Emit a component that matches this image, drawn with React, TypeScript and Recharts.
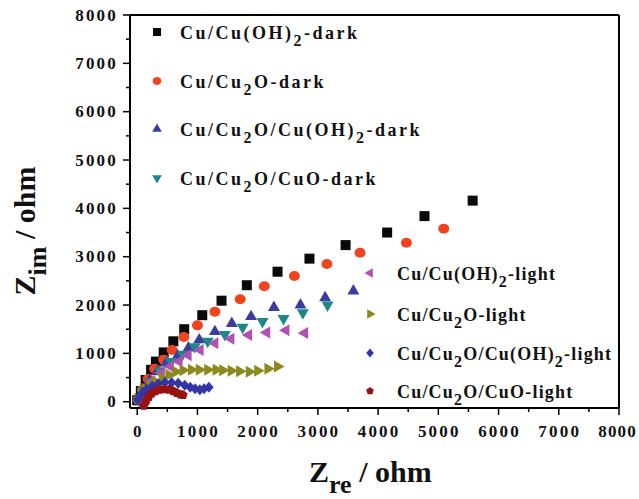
import React from "react";
import { ScatterChart, Scatter, XAxis, YAxis, ReferenceLine } from "recharts";

// axis ticks (ohm)
const majorTicks = [0, 1000, 2000, 3000, 4000, 5000, 6000, 7000, 8000];
const minorTicks = [500, 1500, 2500, 3500, 4500, 5500, 6500, 7500];

// Nyquist points, [Zre, Zim] in ohm
const darkCuOH2 = [
  [0, 30], [60, 220], [140, 450], [230, 660], [310, 830], [440, 1020], [600, 1250],
  [780, 1500], [1080, 1790], [1400, 2090], [1820, 2410], [2330, 2690], [2860, 2960],
  [3460, 3240], [4150, 3500], [4770, 3840], [5570, 4160],
];
const darkCu2O = [
  [20, 40], [90, 250], [180, 470], [290, 680], [440, 870], [580, 1070], [775, 1340],
  [1000, 1580], [1290, 1860], [1710, 2120], [2110, 2390], [2610, 2600], [3150, 2850],
  [3700, 3080], [4470, 3290], [5090, 3580],
];
const darkCu2OCuOH2 = [
  [30, 40], [100, 230], [200, 430], [330, 620], [480, 800], [670, 950], [850, 1110],
  [1030, 1280], [1290, 1450], [1570, 1620], [1890, 1760], [2270, 1950], [2710, 2000],
  [3120, 2150], [3590, 2290],
];
const darkCu2OCuO = [
  [30, 30], [110, 220], [220, 420], [380, 640], [560, 830], [750, 980], [955, 1140],
  [1170, 1250], [1455, 1390], [1750, 1540], [2080, 1660], [2430, 1720], [2750, 1840],
  [3160, 2000],
];
const lightCuOH2 = [
  [30, 30], [120, 220], [240, 420], [400, 600], [550, 730], [695, 830], [845, 960],
  [1045, 1070], [1290, 1210], [1555, 1300], [1850, 1380], [2150, 1430], [2470, 1480],
  [2780, 1420],
];
const lightCu2O = [
  [10, 60], [60, 170], [135, 270], [205, 340], [300, 420], [415, 490], [525, 560],
  [640, 620], [760, 650], [900, 660], [1030, 660], [1170, 660], [1310, 660], [1420, 650],
  [1560, 640], [1700, 630], [1860, 620], [2000, 640], [2170, 680], [2330, 730],
];
const lightCu2OCuOH2 = [
  [10, 40], [40, 120], [90, 190], [160, 260], [250, 320], [350, 370], [460, 400],
  [570, 400], [680, 380], [790, 340], [880, 300], [960, 270], [1040, 250], [1110, 270],
  [1190, 300],
];
const lightCu2OCuO = [
  [110, -80], [150, 20], [190, 100], [240, 170], [300, 220], [370, 250], [450, 260],
  [530, 250], [600, 220], [660, 180], [720, 150], [760, 140],
];

const seriesNames = [
  "Cu/Cu(OH)_2-dark",
  "Cu/Cu_2O-dark",
  "Cu/Cu_2O/Cu(OH)_2-dark",
  "Cu/Cu_2O/CuO-dark",
  "Cu/Cu(OH)_2-light",
  "Cu/Cu_2O-light",
  "Cu/Cu_2O/Cu(OH)_2-light",
  "Cu/Cu_2O/CuO-light",
];

const toPoints = (arr: number[][]) => arr.map(([x, y]) => ({ x, y }));

const series = [
  { name: seriesNames[0], data: darkCuOH2, color: "#0a0a0a", shape: "square", size: 10 },
  { name: seriesNames[1], data: darkCu2O, color: "#f0441f", shape: "circle", size: 11 },
  { name: seriesNames[2], data: darkCu2OCuOH2, color: "#3c3c9c", shape: "up", size: 12 },
  { name: seriesNames[3], data: darkCu2OCuO, color: "#1c8888", shape: "down", size: 12 },
  { name: seriesNames[4], data: lightCuOH2, color: "#b052b4", shape: "left", size: 12 },
  { name: seriesNames[5], data: lightCu2O, color: "#8a8a1e", shape: "right", size: 12 },
  { name: seriesNames[6], data: lightCu2OCuOH2, color: "#3434a6", shape: "diamond", size: 11 },
  { name: seriesNames[7], data: lightCu2OCuO, color: "#981212", shape: "pentagon", size: 10 },
];

const serif = "Liberation Serif, Times New Roman, serif";

const Marker = ({ cx, cy, shape, fill, size }: any) => {
  const s = size;
  const h = s * 0.87;
  if (shape === "square") return <rect x={cx - s / 2} y={cy - s / 2} width={s} height={s} fill={fill} />;
  if (shape === "circle") return <ellipse cx={cx} cy={cy} rx={s / 2} ry={s / 2.2} fill={fill} />;
  if (shape === "diamond")
    return <polygon points={`${cx},${cy - s / 2} ${cx + s / 2.3},${cy} ${cx},${cy + s / 2} ${cx - s / 2.3},${cy}`} fill={fill} />;
  if (shape === "pentagon") {
    const r = s / 2;
    const pts = [0, 1, 2, 3, 4]
      .map((i) => {
        const a = -Math.PI / 2 + (i * 2 * Math.PI) / 5;
        return `${cx + r * Math.cos(a)},${cy + r * Math.sin(a)}`;
      })
      .join(" ");
    return <polygon points={pts} fill={fill} />;
  }
  let pts = "";
  if (shape === "up") pts = `${cx},${cy - (2 * h) / 3} ${cx - s / 2},${cy + h / 3} ${cx + s / 2},${cy + h / 3}`;
  if (shape === "down") pts = `${cx},${cy + (2 * h) / 3} ${cx - s / 2},${cy - h / 3} ${cx + s / 2},${cy - h / 3}`;
  if (shape === "left") pts = `${cx - (2 * h) / 3},${cy} ${cx + h / 3},${cy - s / 2} ${cx + h / 3},${cy + s / 2}`;
  if (shape === "right") pts = `${cx + (2 * h) / 3},${cy} ${cx - h / 3},${cy - s / 2} ${cx - h / 3},${cy + s / 2}`;
  return <polygon points={pts} fill={fill} />;
};

const XTick = (props: any) => {
  const { x, y, payload } = props;
  const major = payload.value % 1000 === 0;
  const last = payload.value === 8000;
  return (
    <g>
      <line x1={x} y1={y} x2={x} y2={y + (major ? 7 : 4)} stroke="#000" strokeWidth={1.5} />
      {major && (
        <text
          x={last ? 637 : x + 1}
          y={y + 29}
          textAnchor={last ? "end" : "middle"}
          fontFamily={serif}
          fontWeight="bold"
          fontSize={17}
          letterSpacing={last ? 1.2 : 2.2}
          fill="#111"
        >
          {payload.value}
        </text>
      )}
    </g>
  );
};

const YTick = (props: any) => {
  const { x, y, payload } = props;
  const major = payload.value % 1000 === 0;
  return (
    <g>
      <line x1={x} y1={y} x2={x - (major ? 7 : 4)} y2={y} stroke="#000" strokeWidth={1.5} />
      {major && (
        <text x={x - 12} y={y + 5.5} textAnchor="end" fontFamily={serif} fontWeight="bold" fontSize={17} letterSpacing={2.2} fill="#111">
          {payload.value}
        </text>
      )}
    </g>
  );
};

// "_2" marks a subscript
const Formula = ({ text, subSize, shift }: { text: string; subSize: number; shift: number }) => {
  const parts = text.split(/_(\d)/);
  let down = false;
  return (
    <>
      {parts.map((p, i) => {
        if (i % 2 === 1) {
          down = true;
          return (
            <tspan key={i} dy={shift} fontSize={subSize}>
              {p}
            </tspan>
          );
        }
        const dy = down ? -shift : 0;
        down = false;
        return (
          <tspan key={i} dy={dy}>
            {p}
          </tspan>
        );
      })}
    </>
  );
};

const legendA = { mx: 157, tx: 180, rows: [32, 81, 129, 178], spacing: 2.5 };
const legendB = { mx: 370, tx: 397, rows: [273, 314, 353, 391], spacing: 1.2 };

export default function App() {
  const allTicks = [...majorTicks, ...minorTicks].sort((a, b) => a - b);
  return (
    <div style={{ position: "absolute", left: 0, top: 0, width: 639, height: 499, background: "#fff" }}>
      <ScatterChart width={639} height={499} margin={{ top: 15, right: 20, bottom: 0, left: 0 }}>
        <XAxis
          type="number"
          dataKey="x"
          domain={[-120, 8000]}
          ticks={allTicks}
          interval={0}
          height={91}
          tickSize={0}
          tickMargin={0}
          tickLine={false}
          tick={<XTick />}
          axisLine={{ stroke: "#000", strokeWidth: 2 }}
        />
        <YAxis
          type="number"
          dataKey="y"
          domain={[-130, 8000]}
          ticks={allTicks}
          interval={0}
          width={130}
          tickSize={0}
          tickMargin={0}
          tickLine={false}
          tick={<YTick />}
          axisLine={{ stroke: "#000", strokeWidth: 2 }}
        />
        <ReferenceLine y={8000} stroke="#000" strokeWidth={2} />
        <ReferenceLine x={8000} stroke="#000" strokeWidth={2} />
        {series.map((s) => (
          <Scatter
            key={s.name}
            name={s.name}
            data={toPoints(s.data)}
            isAnimationActive={false}
            shape={(p: any) => <Marker cx={p.cx} cy={p.cy} shape={s.shape} fill={s.color} size={s.size} />}
          />
        ))}
      </ScatterChart>
      <svg
        width={639}
        height={499}
        style={{ position: "absolute", left: 0, top: 0, pointerEvents: "none" }}
        fontFamily={serif}
        fontWeight={700}
      >
        {series.map((s, i) => {
          const lg = i < 4 ? legendA : legendB;
          const row = lg.rows[i % 4];
          return (
            <g key={s.name}>
              <Marker cx={lg.mx} cy={row} shape={s.shape} fill={s.color} size={s.size * 0.8} />
              <text x={lg.tx} y={row + 6.5} fontSize={18} fill="#111" style={{ letterSpacing: lg.spacing }}>
                <Formula text={s.name} subSize={16} shift={7} />
              </text>
            </g>
          );
        })}
        <text x={309} y={482} fontSize={30} fill="#111">
          Z
          <tspan dy={11} fontSize={26}>re</tspan>
          <tspan dy={-11}> / ohm</tspan>
        </text>
        <text transform="translate(35,231) rotate(-90)" textAnchor="middle" fontSize={30} fill="#111">
          Z
          <tspan dy={11} fontSize={26}>im</tspan>
          <tspan dy={-11}> / ohm</tspan>
        </text>
      </svg>
    </div>
  );
}
